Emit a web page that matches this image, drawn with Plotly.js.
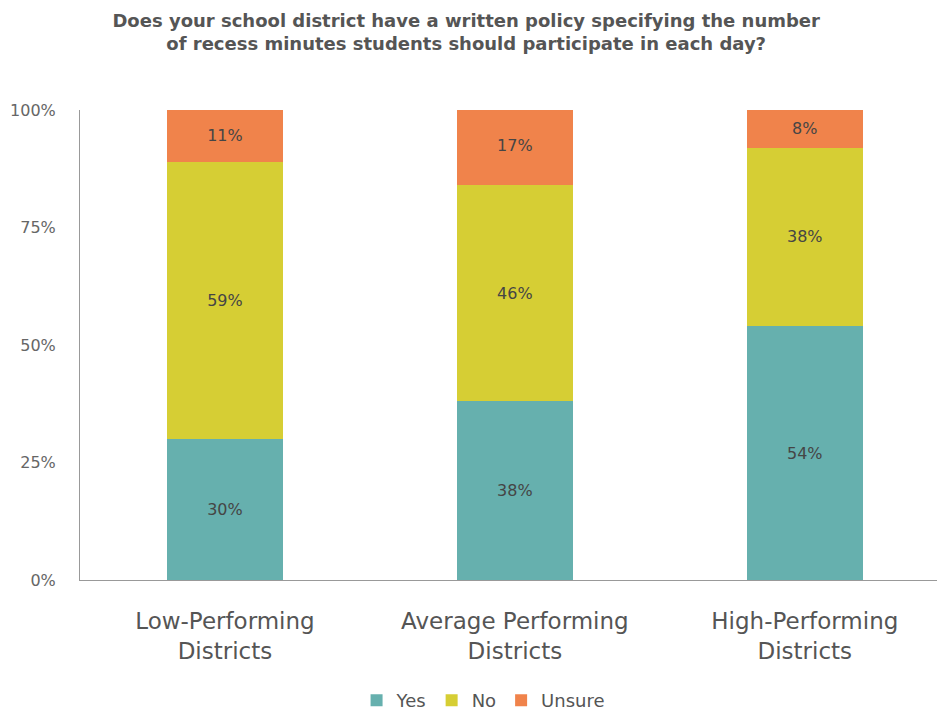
<!DOCTYPE html>
<html><head><meta charset="utf-8">
<script src="https://cdn.plot.ly/plotly-3.0.1.min.js"></script>
<style>body{margin:0;background:#fff}#chart{width:938px;height:712px}</style>
</head><body><div id="chart"></div>
<script>
const categories = ["Low-Performing<br>Districts", "Average Performing<br>Districts", "High-Performing<br>Districts"];
const yesVals = [30, 38, 54];
const noVals = [59, 46, 38];
const unsureVals = [11, 17, 8];
const seriesNames = ["Yes", "No", "Unsure"];
const colors = ["#66b0ae", "#d6ce34", "#f0834b"];
const tickVals = [0, 25, 50, 75, 100];
const tickText = ["0%", "25%", "50%", "75%", "100%"];

const F = "'DejaVu Sans', sans-serif";
const traces = [yesVals, noVals, unsureVals].map((vals, i) => ({
  type: "bar", x: categories, y: vals, name: seriesNames[i],
  marker: {color: colors[i]},
  text: vals.map(v => v + "%"), textposition: "inside", insidetextanchor: "middle",
  textfont: {family: F, size: 16, color: "#454545"},
  hoverinfo: "skip"
}));

Plotly.newPlot("chart", traces, {
  width: 938, height: 712, barmode: "stack", bargap: 0.6,
  margin: {l: 80, r: 1, t: 110, b: 132},
  paper_bgcolor: "#fff", plot_bgcolor: "#fff",
  title: {text: "Does your school district have a written policy specifying the number<br>of recess minutes students should participate in each day?",
    x: 0.497, xref: "container", xanchor: "center", y: 0.962, yref: "container", yanchor: "middle",
    font: {family: F, size: 18, color: "#555", weight: "bold"}},
  xaxis: {range: [-0.5, 2.456], showline: true, linecolor: "#999", linewidth: 1,
    tickfont: {family: F, size: 23, color: "#555"}, ticks: "", ticklabelstandoff: 20, fixedrange: true},
  yaxis: {range: [0, 100], tickvals: tickVals, ticktext: tickText, showgrid: false, zeroline: false,
    showline: true, linecolor: "#999", linewidth: 1, ticks: "", ticklabelstandoff: 20,
    tickfont: {family: F, size: 16, color: "#666"}},
  showlegend: true,
  legend: {orientation: "h", x: 0.515, xref: "container", xanchor: "center", y: 0.016, yref: "container", yanchor: "middle",
    font: {family: F, size: 18, color: "#555"}, traceorder: "normal", itemwidth: 30}
}, {displayModeBar: false, staticPlot: true});
</script></body></html>
